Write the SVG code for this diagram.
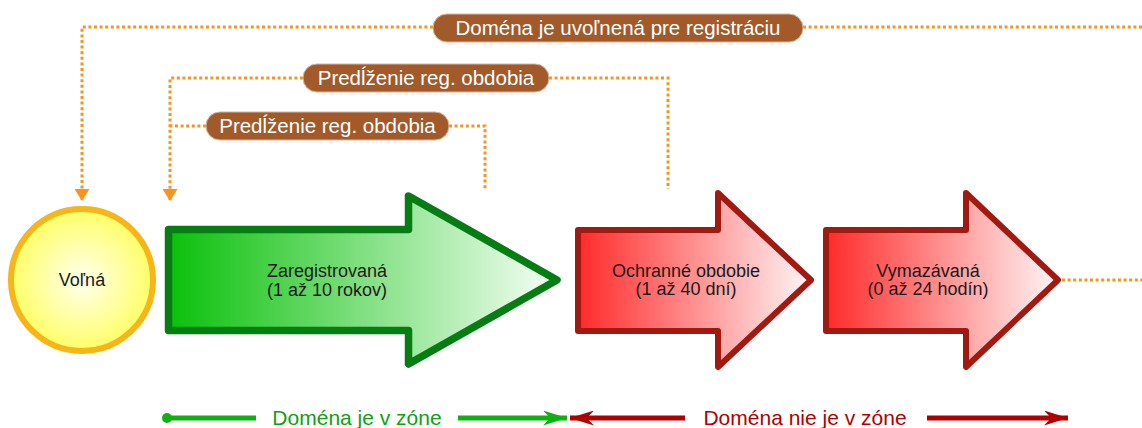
<svg xmlns="http://www.w3.org/2000/svg" width="1142" height="428" viewBox="0 0 1142 428">
<defs>
<radialGradient id="gSun" cx="50%" cy="50%" r="50%">
<stop offset="0" stop-color="#ffffee"/>
<stop offset="1" stop-color="#ffff66"/>
</radialGradient>
<linearGradient id="gGreen" x1="0" y1="0" x2="1" y2="0">
<stop offset="0" stop-color="#0bc00b"/>
<stop offset="1" stop-color="#f6fff6"/>
</linearGradient>
<linearGradient id="gRed" x1="0" y1="0" x2="1" y2="0">
<stop offset="0" stop-color="#ff2a2a"/>
<stop offset="1" stop-color="#fff6f6"/>
</linearGradient>
<marker id="mOrange" viewBox="0 0 10 10" refX="5" refY="10" markerWidth="15" markerHeight="12" markerUnits="userSpaceOnUse" orient="0" preserveAspectRatio="none">
<path d="M0,0 L10,0 L5,10 Z" fill="#f7931e"/>
</marker>
<marker id="mGreenEnd" viewBox="0 0 10 10" refX="10" refY="5" markerWidth="24" markerHeight="15" markerUnits="userSpaceOnUse" orient="auto" preserveAspectRatio="none">
<path d="M0,0 L10,5 L0,10 L3,5 Z" fill="#10b010"/>
</marker>
<marker id="mRedEnd" viewBox="0 0 10 10" refX="10" refY="5" markerWidth="24" markerHeight="15" markerUnits="userSpaceOnUse" orient="auto-start-reverse" preserveAspectRatio="none">
<path d="M0,0 L10,5 L0,10 L3,5 Z" fill="#b00000"/>
</marker>
</defs>
<style>
.dot{fill:none;stroke:#f7931e;stroke-width:3;stroke-dasharray:3 2.6}
.pill{fill:#a25a2b;stroke:#d9b49a;stroke-width:1}
.pilltxt{font-family:"Liberation Sans",Arial,sans-serif;font-size:20.5px;fill:#ffffff;text-anchor:middle}
.ntxt{font-family:"Liberation Sans",Arial,sans-serif;font-size:18px;fill:#1a1a1a;text-anchor:middle}
.garrow{fill:url(#gGreen);stroke:#067d12;stroke-width:7.5;stroke-linejoin:round}
.rarrow{fill:url(#gRed);stroke:#a01a12;stroke-width:6;stroke-linejoin:round}
.leg{font-family:"Liberation Sans",Arial,sans-serif;font-size:21px;text-anchor:middle}
</style>

<g id="connectors">
<path class="dot" d="M433,27 H82 V201" marker-end="url(#mOrange)"/>
<path class="dot" d="M803,27 H1142"/>
<path class="dot" d="M303,78 H170 V201" marker-end="url(#mOrange)"/>
<path class="dot" d="M549,78 H668 V189"/>
<path class="dot" d="M206,126 H170"/>
<path class="dot" d="M449,126 H485 V190"/>
<path class="dot" d="M1062,280 H1142"/>
</g>

<g id="label-uvolnena">
<rect class="pill" x="433" y="14" width="370" height="28" rx="14"/>
<text class="pilltxt" x="618" y="35">Doména je uvoľnená pre registráciu</text>
</g>
<g id="label-predlzenie-1">
<rect class="pill" x="303" y="64" width="246" height="28" rx="14"/>
<text class="pilltxt" x="426" y="85">Predĺženie reg. obdobia</text>
</g>
<g id="label-predlzenie-2">
<rect class="pill" x="206" y="112" width="243" height="28" rx="14"/>
<text class="pilltxt" x="327.5" y="133">Predĺženie reg. obdobia</text>
</g>

<g id="node-volna">
<circle cx="82" cy="280" r="71" fill="url(#gSun)" stroke="#f6b619" stroke-width="6"/>
<text class="ntxt" x="82" y="286">Voľná</text>
</g>

<g id="node-zaregistrovana">
<path class="garrow" d="M168.5,229.5 H408.5 V196 L557,280 L408.5,364 V330.5 H168.5 Z"/>
<text class="ntxt" x="327" y="277">Zaregistrovaná</text>
<text class="ntxt" x="327" y="296">(1 až 10 rokov)</text>
</g>

<g id="node-ochranne">
<path class="rarrow" d="M578,230 H718 V193 L811,280 L718,367 V331 H578 Z"/>
<text class="ntxt" x="686" y="277">Ochranné obdobie</text>
<text class="ntxt" x="686" y="295">(1 až 40 dní)</text>
</g>

<g id="node-vymazavana">
<path class="rarrow" d="M826,230 H966 V193 L1058,280 L966,367 V331 H826 Z"/>
<text class="ntxt" x="928" y="277">Vymazávaná</text>
<text class="ntxt" x="928" y="295">(0 až 24 hodín)</text>
</g>

<g id="legend">
<circle cx="167" cy="418" r="5" fill="#10b010"/>
<line x1="167" y1="418" x2="256" y2="418" stroke="#10b010" stroke-width="5"/>
<text class="leg" x="357" y="425" fill="#10a010">Doména je v zóne</text>
<line x1="458" y1="418" x2="567" y2="418" stroke="#10b010" stroke-width="5" marker-end="url(#mGreenEnd)"/>
<line x1="685" y1="418" x2="570" y2="418" stroke="#b00000" stroke-width="5" marker-end="url(#mRedEnd)"/>
<text class="leg" x="805" y="425" fill="#b00000">Doména nie je v zóne</text>
<line x1="927" y1="418" x2="1068" y2="418" stroke="#b00000" stroke-width="5" marker-end="url(#mRedEnd)"/>
</g>
</svg>
